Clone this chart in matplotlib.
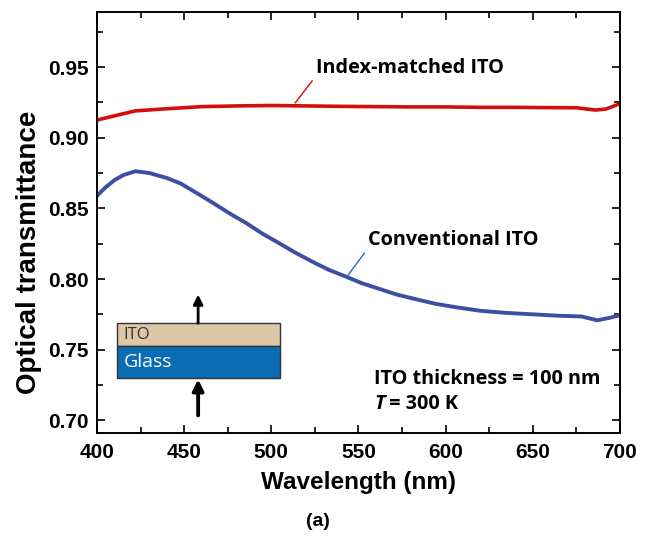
import matplotlib
matplotlib.use('Agg')
import matplotlib.pyplot as plt
from matplotlib.patches import Rectangle
from matplotlib.ticker import MultipleLocator

# data
wl_matched = [400, 410, 422, 440, 460, 480, 500, 520, 540, 560, 580, 600,
              620, 640, 660, 675, 686, 692, 700]
t_matched = [0.9125, 0.9155, 0.919, 0.9205, 0.922, 0.9225, 0.9228, 0.9225, 0.9222,
             0.922, 0.9218, 0.9218, 0.9215, 0.9215, 0.9213, 0.9212, 0.9196, 0.9203, 0.9240]

wl_conv = [400, 405, 410, 415, 422, 430, 440, 448, 457, 467, 476, 486, 495, 505,
           514, 524, 533, 543, 552, 562, 572, 582, 594, 606, 620, 635, 650, 665,
           678, 687, 694, 700]
t_conv = [0.859, 0.865, 0.870, 0.8735, 0.8763, 0.875, 0.8715, 0.8676, 0.861, 0.8535,
          0.8465, 0.8393, 0.832, 0.825, 0.8185, 0.812, 0.8065, 0.8016, 0.797, 0.793,
          0.789, 0.786, 0.7825, 0.780, 0.7775, 0.776, 0.775, 0.774, 0.7735, 0.7708,
          0.7725, 0.7744]

x_ticks = [400, 450, 500, 550, 600, 650, 700]
y_ticks = [0.70, 0.75, 0.80, 0.85, 0.90, 0.95]

red = '#d40d0d'
blue = '#3d4fa3'
bold_sans = ['Liberation Sans', 'DejaVu Sans']
callout = ['Open Sans', 'DejaVu Sans']
fs_callout = 14.3

fig = plt.figure(figsize=(6.47, 5.44), dpi=100)
ax = fig.add_axes([0.150, 0.204, 0.808, 0.774])

ax.plot(wl_matched, t_matched, color=red, lw=2.6)
ax.plot(wl_conv, t_conv, color=blue, lw=2.8)

ax.set_xticks(x_ticks)
ax.set_xticklabels([str(v) for v in x_ticks], family=bold_sans,
                   fontsize=15, fontweight='bold')
ax.set_yticks(y_ticks)
ax.set_yticklabels([f'{v:.2f}' for v in y_ticks], family=bold_sans,
                   fontsize=15, fontweight='bold')
ax.xaxis.set_minor_locator(MultipleLocator(25))
ax.yaxis.set_minor_locator(MultipleLocator(0.025))
ax.set_xlim(400, 700)
ax.set_ylim(0.691, 0.989)
ax.tick_params(which='both', direction='in', top=True, right=True, width=1.2)
ax.tick_params(which='major', length=6)
ax.tick_params(which='minor', length=4)
ax.tick_params(axis='x', pad=7)
ax.tick_params(axis='y', pad=6)
for s in ax.spines.values():
    s.set_linewidth(1.4)

ax.set_xlabel('Wavelength (nm)', family=bold_sans, fontsize=17.5, fontweight='bold', labelpad=7)
ax.set_ylabel('Optical transmittance', family=bold_sans, fontsize=20, fontweight='bold')
ax.yaxis.set_label_coords(-0.106, 0.43)

# call-outs
ax.annotate('Index-matched ITO', xy=(513.6, 0.9245), xytext=(525.6, 0.9493),
            family=callout, fontsize=fs_callout, fontweight='bold', ha='left', va='center',
            arrowprops=dict(arrowstyle='-', color=red, lw=1.0, relpos=(0, 0.1),
                            shrinkA=1, shrinkB=0))
ax.annotate('Conventional ITO', xy=(544, 0.8027), xytext=(555.5, 0.8275),
            family=callout, fontsize=fs_callout, fontweight='bold', ha='left', va='center',
            arrowprops=dict(arrowstyle='-', color='#1f6fc0', lw=1.0, relpos=(0, 0.1),
                            shrinkA=1, shrinkB=0))

ax.text(558.9, 0.729, 'ITO thickness = 100 nm', family=callout, fontsize=fs_callout,
        fontweight='bold', ha='left', va='center')
ax.text(558.9, 0.7113, 'T', family=callout, fontsize=fs_callout, fontweight='bold',
        fontstyle='italic', ha='left', va='center')
ax.text(564.5, 0.7113, ' = 300 K', family=callout, fontsize=fs_callout, fontweight='bold',
        ha='left', va='center')

# inset sketch of the layer stack
ax.add_patch(Rectangle((411.5, 0.7524), 93.5, 0.0163, facecolor='#dcc7a8',
                       edgecolor='#333333', lw=1.0, zorder=3))
ax.add_patch(Rectangle((411.5, 0.7298), 93.5, 0.0226, facecolor='#0a6db3',
                       edgecolor='#333333', lw=1.0, zorder=3))
ax.text(415.0, 0.7606, 'ITO', family=callout, fontsize=12, color='#333333',
        ha='left', va='center', zorder=4)
ax.text(415.5, 0.7414, 'Glass', family=callout, fontsize=14, color='white',
        ha='left', va='center', zorder=4)
ax.annotate('', xy=(458, 0.7890), xytext=(458, 0.7687),
            arrowprops=dict(arrowstyle='-|>', color='black', lw=2.0,
                            mutation_scale=14, shrinkA=0, shrinkB=0))
ax.annotate('', xy=(458, 0.7290), xytext=(458, 0.7035),
            arrowprops=dict(arrowstyle='-|>', color='black', lw=2.8,
                            mutation_scale=16, shrinkA=0, shrinkB=0))

fig.text(0.492, 0.042, '(a)', family=bold_sans, fontsize=14, fontweight='bold',
         ha='center', va='center')

fig.savefig('out.png', dpi=100)
